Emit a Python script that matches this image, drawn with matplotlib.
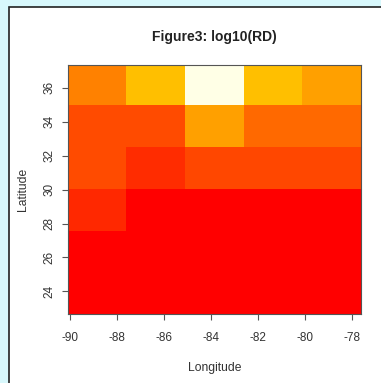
import numpy as np
import matplotlib.pyplot as plt
from matplotlib.colors import LinearSegmentedColormap
from matplotlib.patches import Rectangle

plt.rcParams['font.family'] = ['Liberation Sans', 'DejaVu Sans']
plt.rcParams['axes.unicode_minus'] = False

# grid cell edges (degrees)
lon_edges = [-90.1, -87.6, -85.1, -82.6, -80.1, -77.6]
lat_edges = [22.65, 25.1, 27.55, 30.03, 32.52, 35.0, 37.35]

# log10(RD), rows from south to north
rd = np.array([
    [0.00, 0.00, 0.00, 0.00, 0.00],
    [0.00, 0.00, 0.00, 0.00, 0.00],
    [0.12, 0.00, 0.00, 0.00, 0.00],
    [0.22, 0.13, 0.21, 0.21, 0.21],
    [0.22, 0.22, 0.47, 0.31, 0.31],
    [0.38, 0.56, 1.00, 0.56, 0.47],
])

xticks = [-90, -88, -86, -84, -82, -80, -78]
yticks = [24, 26, 28, 30, 32, 34, 36]

# R heat.colors-like ramp
heat = LinearSegmentedColormap.from_list(
    'heat', [(0.0, '#FF0000'), (0.75, '#FFFF00'), (1.0, '#FFFFE6')])

fig = plt.figure(figsize=(3.81, 3.83), dpi=100)
fig.patch.set_facecolor('#D8F8FC')
panel = Rectangle((0.024, -0.01), 1.0, 0.992, transform=fig.transFigure,
                  facecolor='white', edgecolor='#222222', lw=1.2, zorder=-10)
fig.add_artist(panel)

ax = fig.add_axes([0.1777, 0.1794, 0.7698, 0.6509])
ax.pcolormesh(lon_edges, lat_edges, rd, cmap=heat, vmin=0, vmax=1)
ax.set_xlim(lon_edges[0], lon_edges[-1])
ax.set_ylim(lat_edges[0], lat_edges[-1])

ax.set_xticks(xticks)
ax.set_yticks(yticks)
ax.set_yticklabels([str(t) for t in yticks], rotation=90, va='center')
ax.tick_params(axis='both', direction='out', length=4.5, width=0.8, color='#555555',
               labelsize=8.5, labelcolor='#333333')
ax.tick_params(axis='x', pad=8.5)
ax.tick_params(axis='y', pad=4)
for s in ax.spines.values():
    s.set_color('#555555')
    s.set_linewidth(0.8)

ax.set_title('Figure3: log10(RD)', fontsize=10, fontweight='bold', color='#222222', pad=17)
ax.set_xlabel('Longitude', fontsize=8.7, color='#333333', labelpad=13)
ax.set_ylabel('Latitude', fontsize=8.7, color='#333333', labelpad=11)

fig.savefig('out.png', dpi=100, facecolor=fig.get_facecolor())
